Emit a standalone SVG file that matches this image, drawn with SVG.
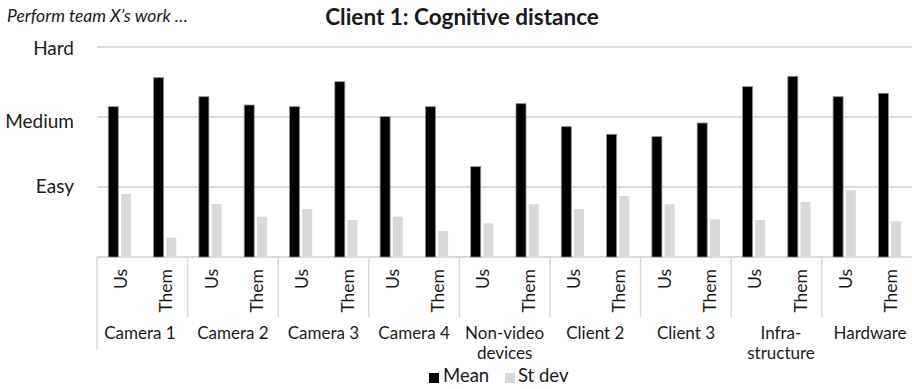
<svg xmlns="http://www.w3.org/2000/svg" width="912" height="389" viewBox="0 0 912 389">
<style>
text{font-family:Lato,"Open Sans","Liberation Sans",sans-serif;fill:#1a1a1a}
.grid{stroke:#d9d9d9;stroke-width:2}
.tick{stroke:#d9d9d9;stroke-width:1.5}
.m{fill:#000;stroke:#8c8c8c;stroke-width:0.8}
.s{fill:#d9d9d9}
.ylab{font-size:19px;text-anchor:end}
.sub{font-size:17.5px;text-anchor:end;dominant-baseline:central}
.cat{font-size:17px;text-anchor:middle}
.leg{font-size:18.5px}
</style>
<rect width="912" height="389" fill="#fff"/>
<text x="7" y="22" font-size="17.5" font-style="italic">Perform team X’s work …</text>
<text x="462" y="25" font-size="22.5" font-weight="bold" text-anchor="middle">Client 1: Cognitive distance</text>
<g id="y-axis">
<text class="ylab" x="74" y="55">Hard</text>
<text class="ylab" x="74" y="128">Medium</text>
<text class="ylab" x="74" y="193">Easy</text>
</g>
<g id="gridlines">
<line class="grid" x1="97" y1="47" x2="912" y2="47"/>
<line class="grid" x1="97" y1="117" x2="912" y2="117"/>
<line class="grid" x1="97" y1="187" x2="912" y2="187"/>
<line class="grid" x1="97" y1="257" x2="912" y2="257"/>
</g>
<g id="x-axis">
<line class="tick" x1="97" y1="257" x2="97" y2="349"/>
<line class="tick" x1="187.6" y1="257" x2="187.6" y2="317"/>
<line class="tick" x1="278.2" y1="257" x2="278.2" y2="317"/>
<line class="tick" x1="368.8" y1="257" x2="368.8" y2="317"/>
<line class="tick" x1="459.4" y1="257" x2="459.4" y2="317"/>
<line class="tick" x1="550" y1="257" x2="550" y2="317"/>
<line class="tick" x1="640.6" y1="257" x2="640.6" y2="317"/>
<line class="tick" x1="731.2" y1="257" x2="731.2" y2="317"/>
<line class="tick" x1="821.8" y1="257" x2="821.8" y2="317"/>
</g>
<g id="bars-mean">
<rect class="m" x="108.3" y="106.7" width="10" height="150.3"/>
<rect class="m" x="153.6" y="77.7" width="10" height="179.3"/>
<rect class="m" x="198.9" y="96.7" width="10" height="160.3"/>
<rect class="m" x="244.2" y="105" width="10" height="152"/>
<rect class="m" x="289.5" y="106.7" width="10" height="150.3"/>
<rect class="m" x="334.8" y="81.7" width="10" height="175.3"/>
<rect class="m" x="380.1" y="116.7" width="10" height="140.3"/>
<rect class="m" x="425.4" y="106.7" width="10" height="150.3"/>
<rect class="m" x="470.7" y="166.7" width="10" height="90.3"/>
<rect class="m" x="516" y="103.7" width="10" height="153.3"/>
<rect class="m" x="561.3" y="126.7" width="10" height="130.3"/>
<rect class="m" x="606.6" y="134.3" width="10" height="122.7"/>
<rect class="m" x="651.9" y="136.7" width="10" height="120.3"/>
<rect class="m" x="697.2" y="123" width="10" height="134"/>
<rect class="m" x="742.5" y="86.7" width="10" height="170.3"/>
<rect class="m" x="787.8" y="76.3" width="10" height="180.7"/>
<rect class="m" x="833.1" y="96.7" width="10" height="160.3"/>
<rect class="m" x="878.4" y="93.3" width="10" height="163.7"/>
</g>
<g id="bars-stdev">
<rect class="s" x="121" y="194" width="10" height="63"/>
<rect class="s" x="166.3" y="237.7" width="10" height="19.3"/>
<rect class="s" x="211.6" y="204" width="10" height="53"/>
<rect class="s" x="256.9" y="216.7" width="10" height="40.3"/>
<rect class="s" x="302.2" y="209" width="10" height="48"/>
<rect class="s" x="347.5" y="220" width="10" height="37"/>
<rect class="s" x="392.8" y="216.7" width="10" height="40.3"/>
<rect class="s" x="438.1" y="231" width="10" height="26"/>
<rect class="s" x="483.4" y="223.3" width="10" height="33.7"/>
<rect class="s" x="528.7" y="204.3" width="10" height="52.7"/>
<rect class="s" x="574" y="209" width="10" height="48"/>
<rect class="s" x="619.3" y="196" width="10" height="61"/>
<rect class="s" x="664.6" y="204.3" width="10" height="52.7"/>
<rect class="s" x="709.9" y="219.3" width="10" height="37.7"/>
<rect class="s" x="755.2" y="220" width="10" height="37"/>
<rect class="s" x="800.5" y="202" width="10" height="55"/>
<rect class="s" x="845.8" y="190.3" width="10" height="66.7"/>
<rect class="s" x="891.1" y="221.3" width="10" height="35.7"/>
</g>
<g id="sub-labels">
<text class="sub" transform="translate(120.5,269) rotate(-90)">Us</text>
<text class="sub" transform="translate(165.8,269) rotate(-90)">Them</text>
<text class="sub" transform="translate(211.1,269) rotate(-90)">Us</text>
<text class="sub" transform="translate(256.4,269) rotate(-90)">Them</text>
<text class="sub" transform="translate(301.7,269) rotate(-90)">Us</text>
<text class="sub" transform="translate(347,269) rotate(-90)">Them</text>
<text class="sub" transform="translate(392.3,269) rotate(-90)">Us</text>
<text class="sub" transform="translate(437.6,269) rotate(-90)">Them</text>
<text class="sub" transform="translate(482.9,269) rotate(-90)">Us</text>
<text class="sub" transform="translate(528.2,269) rotate(-90)">Them</text>
<text class="sub" transform="translate(573.5,269) rotate(-90)">Us</text>
<text class="sub" transform="translate(618.8,269) rotate(-90)">Them</text>
<text class="sub" transform="translate(664.1,269) rotate(-90)">Us</text>
<text class="sub" transform="translate(709.4,269) rotate(-90)">Them</text>
<text class="sub" transform="translate(754.7,269) rotate(-90)">Us</text>
<text class="sub" transform="translate(800,269) rotate(-90)">Them</text>
<text class="sub" transform="translate(845.3,269) rotate(-90)">Us</text>
<text class="sub" transform="translate(890.6,269) rotate(-90)">Them</text>
</g>
<g id="category-labels">
<text class="cat" x="140" y="339">Camera 1</text>
<text class="cat" x="233" y="339">Camera 2</text>
<text class="cat" x="323.5" y="339">Camera 3</text>
<text class="cat" x="414.1" y="339">Camera 4</text>
<text class="cat" x="504.7" y="339">Non-video</text>
<text class="cat" x="504.7" y="359">devices</text>
<text class="cat" x="595.3" y="339">Client 2</text>
<text class="cat" x="686" y="339">Client 3</text>
<text class="cat" x="781" y="339">Infra-</text>
<text class="cat" x="781" y="359">structure</text>
<text class="cat" x="870" y="339">Hardware</text>
</g>
<g id="legend">
<rect x="429" y="373" width="10" height="10" fill="#000"/>
<text class="leg" x="443" y="382">Mean</text>
<rect x="505" y="373" width="10" height="10" fill="#d9d9d9"/>
<text class="leg" x="518" y="382">St dev</text>
</g>
</svg>
